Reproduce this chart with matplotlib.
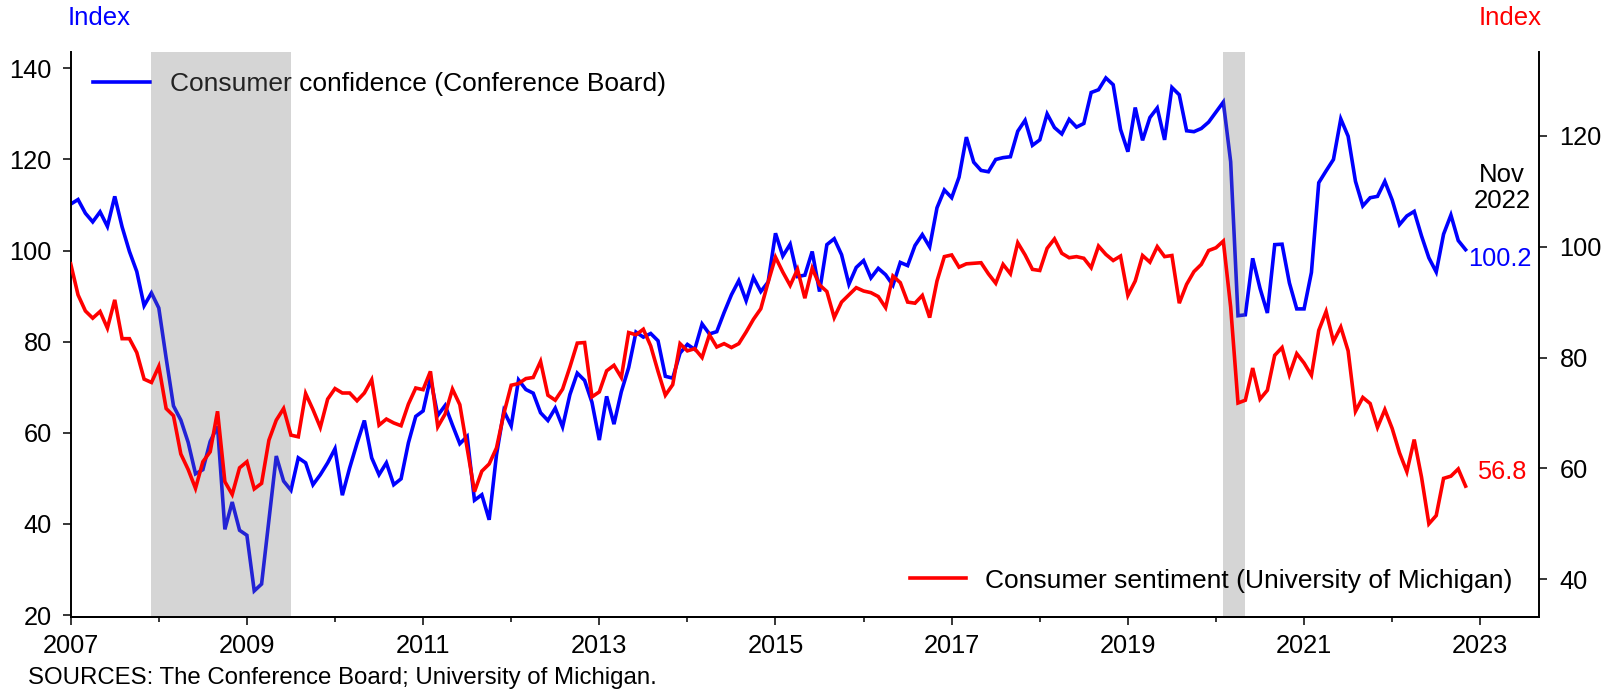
import numpy as np
import matplotlib
matplotlib.use("Agg")
import matplotlib.pyplot as plt

plt.rcParams['font.family'] = ['Liberation Sans', 'DejaVu Sans']

# ---- data (monthly, Jan 2007 - Nov 2022) ----
start_year = 2007

confidence = [
    110.2, 111.2, 108.2, 106.3, 108.5, 105.3, 111.9, 105.2, 99.8, 95.4, 87.9, 90.7,   # 2007
    87.4, 76.4, 65.9, 62.8, 57.9, 51.0, 51.9, 58.1, 61.4, 38.8, 44.8, 38.6,          # 2008
    37.5, 25.3, 26.8, 40.8, 54.9, 49.4, 47.4, 54.5, 53.4, 48.6, 50.8, 53.4,          # 2009
    56.5, 46.3, 52.3, 57.7, 62.7, 54.5, 50.8, 53.4, 48.6, 49.9, 57.8, 63.6,          # 2010
    64.8, 72.0, 63.8, 66.0, 61.7, 57.6, 59.2, 45.2, 46.4, 40.9, 55.2, 64.8,          # 2011
    61.5, 71.6, 69.5, 68.7, 64.4, 62.7, 65.4, 61.3, 68.4, 73.1, 71.5, 66.7,          # 2012
    58.4, 68.0, 61.9, 69.0, 74.3, 82.1, 81.0, 81.8, 80.2, 72.4, 72.0, 77.5,          # 2013
    79.4, 78.3, 83.9, 81.7, 82.2, 86.4, 90.3, 93.4, 89.0, 94.1, 91.0, 93.1,          # 2014
    103.8, 98.8, 101.4, 94.3, 94.6, 99.8, 91.0, 101.3, 102.6, 99.1, 92.6, 96.3,      # 2015
    97.8, 94.0, 96.1, 94.7, 92.4, 97.4, 96.7, 101.1, 103.5, 100.8, 109.4, 113.3,     # 2016
    111.6, 116.1, 124.9, 119.4, 117.6, 117.3, 120.0, 120.4, 120.6, 126.2, 128.6, 123.1,  # 2017
    124.3, 130.0, 127.0, 125.6, 128.8, 127.1, 127.9, 134.7, 135.3, 137.9, 136.4, 126.6,  # 2018
    121.7, 131.4, 124.2, 129.2, 131.3, 124.3, 135.8, 134.2, 126.3, 126.1, 126.8, 128.2,  # 2019
    130.4, 132.6, 119.5, 85.7, 85.9, 98.3, 91.7, 86.3, 101.3, 101.4, 92.9, 87.2,     # 2020
    87.2, 95.2, 114.9, 117.5, 120.0, 128.9, 125.1, 115.2, 109.8, 111.6, 111.9, 115.2,  # 2021
    111.1, 105.7, 107.6, 108.6, 103.2, 98.4, 95.3, 103.6, 107.8, 102.2, 100.2,       # 2022
]

sentiment = [
    96.9, 91.3, 88.4, 87.1, 88.3, 85.3, 90.4, 83.4, 83.4, 80.9, 76.1, 75.5,          # 2007
    78.4, 70.8, 69.5, 62.6, 59.8, 56.4, 61.2, 63.0, 70.3, 57.6, 55.3, 60.1,          # 2008
    61.2, 56.3, 57.3, 65.1, 68.7, 70.8, 66.0, 65.7, 73.5, 70.6, 67.4, 72.5,          # 2009
    74.4, 73.6, 73.6, 72.2, 73.6, 76.0, 67.8, 68.9, 68.2, 67.7, 71.6, 74.5,          # 2010
    74.2, 77.5, 67.5, 69.8, 74.3, 71.5, 63.7, 55.8, 59.5, 60.8, 63.7, 69.9,          # 2011
    75.0, 75.3, 76.2, 76.4, 79.3, 73.2, 72.3, 74.3, 78.3, 82.6, 82.7, 72.9,          # 2012
    73.8, 77.6, 78.6, 76.4, 84.5, 84.1, 85.1, 82.1, 77.5, 73.2, 75.1, 82.5,          # 2013
    81.2, 81.6, 80.0, 84.1, 81.9, 82.5, 81.8, 82.5, 84.6, 86.9, 88.8, 93.6,          # 2014
    98.1, 95.4, 93.0, 95.9, 90.7, 96.1, 93.1, 91.9, 87.2, 90.0, 91.3, 92.6,          # 2015
    92.0, 91.7, 91.0, 89.0, 94.7, 93.5, 90.0, 89.8, 91.2, 87.2, 93.8, 98.2,          # 2016
    98.5, 96.3, 96.9, 97.0, 97.1, 95.1, 93.4, 96.8, 95.1, 100.7, 98.5, 95.9,         # 2017
    95.7, 99.7, 101.4, 98.8, 98.0, 98.2, 97.9, 96.2, 100.1, 98.6, 97.5, 98.3,        # 2018
    91.2, 93.8, 98.4, 97.2, 100.0, 98.2, 98.4, 89.8, 93.2, 95.5, 96.8, 99.3,         # 2019
    99.8, 101.0, 89.1, 71.8, 72.3, 78.1, 72.5, 74.1, 80.4, 81.8, 76.9, 80.7,         # 2020
    79.0, 76.8, 84.9, 88.3, 82.9, 85.5, 81.2, 70.3, 72.8, 71.7, 67.4, 70.6,          # 2021
    67.2, 62.8, 59.4, 65.2, 58.4, 50.0, 51.5, 58.2, 58.6, 59.9, 56.8,                # 2022
]

# recessions (decimal years): Dec 2007 - Jun 2009, Feb 2020 - Apr 2020
rec_start = [2007 + 11 / 12, 2020 + 1 / 12]
rec_end = [2009.5, 2020 + 4 / 12]

left_ticks = [20, 40, 60, 80, 100, 120, 140]
right_ticks = [40, 60, 80, 100, 120]
year_major = list(range(2007, 2024, 2))
year_minor = list(range(2008, 2023, 2))

# ---- figure ----
W, H = 1617, 692
fig = plt.figure(figsize=(W / 100, H / 100), dpi=100)

L, R, T, B = 70.7, 1539.3, 51.5, 616.7
ax1 = fig.add_axes([L / W, 1 - B / H, (R - L) / W, (B - T) / H])
ax2 = ax1.twinx()

x = start_year + np.arange(len(confidence)) / 12.0
xs = start_year + np.arange(len(sentiment)) / 12.0

BLUE = '#0000ff'
RED = '#ff0000'

l1, = ax1.plot(x, confidence, color=BLUE, lw=2.6,
               label='Consumer confidence (Conference Board)', solid_joinstyle='miter')
for s, e in zip(rec_start, rec_end):
    ax2.axvspan(s, e, color=(118 / 255, 118 / 255, 118 / 255), alpha=0.3, lw=0, zorder=0)
l2, = ax2.plot(xs, sentiment, color=RED, lw=2.6,
               label='Consumer sentiment (University of Michigan)', solid_joinstyle='miter')

ax1.set_xlim(2007, 2023.67)
ax1.set_ylim(19.63, 143.7)
ax2.set_ylim(33.25, 135.2)

ax1.set_xticks(year_major)
ax1.set_xticks(year_minor, minor=True)
ax1.set_yticks(left_ticks)
ax2.set_yticks(right_ticks)

for sp in ['top', 'right']:
    ax1.spines[sp].set_visible(False)
for sp in ['top', 'left']:
    ax2.spines[sp].set_visible(False)
for ax in (ax1, ax2):
    for sp in ax.spines.values():
        sp.set_linewidth(1.4)

ax1.tick_params(axis='x', which='major', direction='out', length=5.8, width=1.1,
                pad=7, labelsize=18.3)
ax1.tick_params(axis='x', which='minor', direction='out', length=3.6, width=1.1)
ax1.tick_params(axis='y', direction='out', length=6.1, width=1.1, pad=7.6, labelsize=18.3)
ax2.tick_params(axis='y', direction='out', length=6.1, width=1.1, pad=8.4, labelsize=18.3)

# legends
ax1.legend(handles=[l1], loc='center left', bbox_to_anchor=(92.7 / W, 1 - 84 / H),
           bbox_transform=fig.transFigure, frameon=False, borderpad=0, borderaxespad=0,
           handlelength=2.17, handletextpad=0.76, fontsize=19)
ax2.legend(handles=[l2], loc='center left', bbox_to_anchor=(909.6 / W, 1 - 580.6 / H),
           bbox_transform=fig.transFigure, frameon=False, borderpad=0, borderaxespad=0,
           handlelength=2.15, handletextpad=0.71, fontsize=19)

# annotations
fig.text(68 / W, 1 - 25 / H, 'Index', color=BLUE, fontsize=18.5, ha='left', va='baseline')
fig.text(1541.7 / W, 1 - 25 / H, 'Index', color=RED, fontsize=18.5, ha='right', va='baseline')
fig.text(1502.3 / W, 1 - 181.7 / H, 'Nov', color='black', fontsize=18.5, ha='center', va='baseline')
fig.text(1502.3 / W, 1 - 208.3 / H, '2022', color='black', fontsize=18.5, ha='center', va='baseline')
fig.text(1468.3 / W, 1 - 266 / H, f'{confidence[-1]:.1f}', color=BLUE, fontsize=18.3,
         ha='left', va='baseline')
fig.text(1477.3 / W, 1 - 479.3 / H, f'{sentiment[-1]:.1f}', color=RED, fontsize=18.3,
         ha='left', va='baseline')
fig.text(28.3 / W, 1 - 684 / H, 'SOURCES: The Conference Board; University of Michigan.',
         color='black', fontsize=17.3, ha='left', va='baseline')

fig.savefig('out.png', dpi=100)
